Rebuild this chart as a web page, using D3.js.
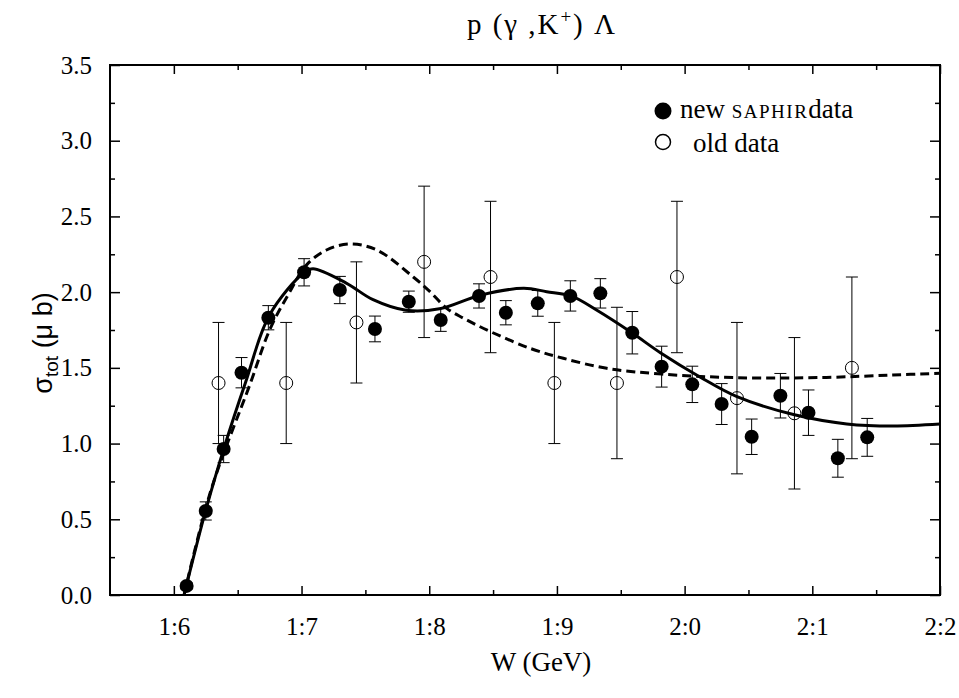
<!DOCTYPE html>
<html>
<head>
<meta charset="utf-8">
<script src="https://cdn.jsdelivr.net/npm/d3@7"></script>
<style>
body{margin:0;background:#fff;}
text{fill:#000;}
</style>
</head>
<body>
<div class="chart"></div>
<script>
// new SAPHIR data (filled)
var newW=[1.610,1.625,1.639,1.653,1.674,1.702,1.730,1.7575,1.784,1.809,1.839,1.860,1.885,1.9105,1.934,1.959,1.982,2.006,2.029,2.0525,2.075,2.097,2.120,2.143];
var newS=[0.06,0.555,0.964,1.468,1.831,2.131,2.014,1.757,1.937,1.816,1.975,1.864,1.926,1.975,1.992,1.732,1.508,1.391,1.261,1.045,1.316,1.204,0.903,1.041];
var newErr=[0.02,0.06,0.09,0.1,0.08,0.09,0.09,0.085,0.07,0.075,0.08,0.08,0.085,0.1,0.097,0.14,0.135,0.12,0.135,0.117,0.147,0.15,0.125,0.125];
// old data (open)
var oldW=[1.635,1.688,1.743,1.796,1.848,1.898,1.947,1.994,2.041,2.086,2.131];
var oldS=[1.4,1.4,1.8,2.2,2.1,1.4,1.4,2.1,1.3,1.2,1.5];
var oldLo=[1.0,1.0,1.4,1.7,1.6,1.0,0.9,1.6,0.8,0.7,0.9];
var oldHi=[1.8,1.8,2.2,2.7,2.6,1.8,1.9,2.6,1.8,1.7,2.1];
// model curves
var solidW=[1.608,1.625,1.640,1.656,1.675,1.702,1.709,1.735,1.756,1.782,1.808,1.840,1.874,1.892,1.911,1.931,1.959,1.981,2.012,2.041,2.086,2.127,2.163,2.200];
var solidS=[0.0,0.56,0.99,1.40,1.85,2.13,2.155,2.06,1.95,1.88,1.89,1.98,2.025,2.003,1.975,1.882,1.73,1.60,1.44,1.31,1.19,1.13,1.116,1.129];
var dashW=[1.608,1.629,1.660,1.675,1.690,1.704,1.720,1.738,1.759,1.7875,1.8006,1.8137,1.827,1.848,1.879,1.905,1.939,1.982,2.041,2.111,2.163,2.200];
var dashS=[0.0,0.69,1.40,1.75,1.99,2.18,2.28,2.318,2.278,2.10,2.003,1.893,1.827,1.739,1.629,1.563,1.497,1.459,1.435,1.437,1.453,1.464];
// ticks
var xMajor=[1.6,1.7,1.8,1.9,2.0,2.1,2.2];
var xTickLabels=["1:6","1:7","1:8","1:9","2:0","2:1","2:2"];
var xMinor=[1.65,1.75,1.85,1.95,2.05,2.15];
var yMajor=[0,0.5,1.0,1.5,2.0,2.5,3.0,3.5];
var yTickLabels=["0.0","0.5","1.0","1.5","2.0","2.5","3.0","3.5"];
var yMinor=[0.25,0.75,1.25,1.75,2.25,2.75,3.25];

var width=959,height=698;
var svg=d3.select('div.chart')
		.append('svg')
		.attr('width',width)
		.attr('height',height);

var x=d3.scaleLinear().domain([1.55,2.2]).range([110,940]);
var y=d3.scaleLinear().domain([0,3.5]).range([595,65]);
var serif='"Liberation Serif","Times New Roman",serif';

//坐标轴
function axisStyle(g){
	g.select('.domain').remove();
	g.selectAll('line').attr('stroke','#000').attr('stroke-width',1.5);
	g.selectAll('text').style('font-family',serif).style('font-size','25px').attr('fill','#000');
}
svg.append('g').attr('transform','translate(0,595)')
	.call(d3.axisBottom(x).tickValues(xMajor).tickSize(-9).tickSizeOuter(0).tickPadding(22)
		.tickFormat(function(d,i){return xTickLabels[i];}))
	.call(axisStyle);
svg.append('g').attr('transform','translate(0,595)')
	.call(d3.axisBottom(x).tickValues(xMinor).tickSize(-5).tickSizeOuter(0).tickFormat(''))
	.call(axisStyle);
svg.append('g').attr('transform','translate(0,65)')
	.call(d3.axisTop(x).tickValues(xMajor).tickSize(-9).tickSizeOuter(0).tickFormat(''))
	.call(axisStyle);
svg.append('g').attr('transform','translate(0,65)')
	.call(d3.axisTop(x).tickValues(xMinor).tickSize(-5).tickSizeOuter(0).tickFormat(''))
	.call(axisStyle);
svg.append('g').attr('transform','translate(110,0)')
	.call(d3.axisLeft(y).tickValues(yMajor).tickSize(-10).tickSizeOuter(0).tickPadding(18)
		.tickFormat(function(d,i){return yTickLabels[i];}))
	.call(axisStyle);
svg.append('g').attr('transform','translate(110,0)')
	.call(d3.axisLeft(y).tickValues(yMinor).tickSize(-5).tickSizeOuter(0).tickFormat(''))
	.call(axisStyle);
svg.append('g').attr('transform','translate(940,0)')
	.call(d3.axisRight(y).tickValues(yMajor).tickSize(-10).tickSizeOuter(0).tickFormat(''))
	.call(axisStyle);
svg.append('g').attr('transform','translate(940,0)')
	.call(d3.axisRight(y).tickValues(yMinor).tickSize(-5).tickSizeOuter(0).tickFormat(''))
	.call(axisStyle);

svg.append('rect')
	.attr('x',110).attr('y',65)
	.attr('width',830).attr('height',530)
	.attr('fill','none')
	.attr('stroke','#000')
	.attr('stroke-width',2);

//曲线
var line=d3.line()
	.x(function(d){return x(d[0]);})
	.y(function(d){return y(d[1]);})
	.curve(d3.curveCatmullRom.alpha(0.5));
svg.append('path')
	.datum(dashW.map(function(w,i){return [w,dashS[i]];}))
	.attr('d',line)
	.attr('fill','none')
	.attr('stroke','#000')
	.attr('stroke-width',3)
	.attr('stroke-dasharray','9,5');
svg.append('path')
	.datum(solidW.map(function(w,i){return [w,solidS[i]];}))
	.attr('d',line)
	.attr('fill','none')
	.attr('stroke','#000')
	.attr('stroke-width',3);

//误差棒
function errBar(g,xv,lo,hi){
	var px=x(xv);
	g.append('line').attr('x1',px).attr('x2',px).attr('y1',y(lo)).attr('y2',y(hi));
	g.append('line').attr('x1',px-6).attr('x2',px+6).attr('y1',y(lo)).attr('y2',y(lo));
	g.append('line').attr('x1',px-6).attr('x2',px+6).attr('y1',y(hi)).attr('y2',y(hi));
}
var eb=svg.append('g').attr('stroke','#000').attr('stroke-width',1);
for(var i=0;i<oldW.length;i++){
	errBar(eb,oldW[i],oldLo[i],oldHi[i]);
}
for(var j=0;j<newW.length;j++){
	errBar(eb,newW[j],newS[j]-newErr[j],newS[j]+newErr[j]);
}

svg.append('g').selectAll('circle')
	.data(oldW)
	.enter()
	.append('circle')
	.attr('cx',function(d){return x(d);})
	.attr('cy',function(d,i){return y(oldS[i]);})
	.attr('r',6.5)
	.attr('fill','none')
	.attr('stroke','#000')
	.attr('stroke-width',1);
svg.append('g').selectAll('circle')
	.data(newW)
	.enter()
	.append('circle')
	.attr('cx',function(d){return x(d);})
	.attr('cy',function(d,i){return y(newS[i]);})
	.attr('r',7)
	.attr('fill','#000');

//图例
svg.append('circle').attr('cx',663).attr('cy',111).attr('r',8.5).attr('fill','#000');
svg.append('circle').attr('cx',663).attr('cy',142).attr('r',7.5).attr('fill','none').attr('stroke','#000').attr('stroke-width',1.5);
var l1=svg.append('text').attr('x',680).attr('y',118).style('font-family',serif).style('font-size','27px');
l1.append('tspan').text('new ');
l1.append('tspan').style('font-size','19px').style('letter-spacing','1.5px').text('SAPHIR');
l1.append('tspan').text('data');
svg.append('text').attr('x',693).attr('y',152).style('font-family',serif).style('font-size','27px').text('old data');

//标题
var t=svg.append('text').attr('x',467).attr('y',34)
	.attr('textLength',148).attr('lengthAdjust','spacing')
	.style('font-family',serif).style('font-size','29px');
t.append('tspan').text('p (γ ,K');
t.append('tspan').attr('dy',-11).style('font-size','19px').text('+');
t.append('tspan').attr('dy',11).text(') Λ');

svg.append('text').attr('x',541).attr('y',671).attr('text-anchor','middle')
	.style('font-family',serif).style('font-size','27px').text('W (GeV)');

var yl=svg.append('text').attr('transform','translate(52,343) rotate(-90)').attr('text-anchor','middle')
	.style('font-family','"Liberation Sans",Arial,sans-serif').style('font-size','27px');
yl.append('tspan').text('σ');
yl.append('tspan').attr('dy',6).style('font-size','19px').text('tot');
yl.append('tspan').attr('dy',-6).text(' (μ b)');
</script>
</body>
</html>
